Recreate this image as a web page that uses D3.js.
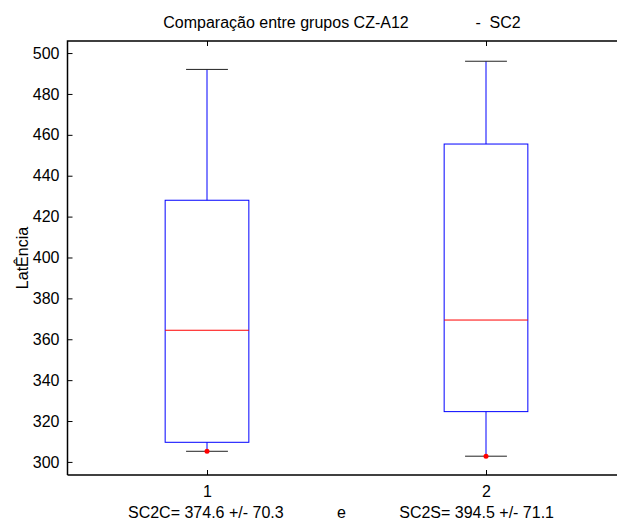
<!DOCTYPE html>
<html>
<head>
<meta charset="utf-8">
<script src="https://cdn.jsdelivr.net/npm/d3@7"></script>
<style>
  body { margin: 0; background: #fff; }
  text { font-family: "Liberation Sans", Arial, sans-serif; font-size: 16px; fill: #000; white-space: pre; }
</style>
</head>
<body>
<main></main>
<script>
const width = 617, height = 522;

// data
const groups = [1, 2];
const upperWhisker = [492, 496];
const q3 = [428, 455.5];
const median = [364.4, 369.4];
const q1 = [309.6, 324.6];
const lowerWhisker = [305.2, 302.8];
const minPoint = [305.2, 302.8];
const yTicks = [300, 320, 340, 360, 380, 400, 420, 440, 460, 480, 500];
const titleText = "Comparação entre grupos CZ-A12" + " ".repeat(15) + "-  SC2";
const xLabelText = "SC2C= 374.6 +/- 70.3" + " ".repeat(12) + "e" + " ".repeat(12) + "SC2S= 394.5 +/- 71.1";
const yLabelText = "LatÊncia";

const plotLeft = 67.5, plotRight = 625.5, plotTop = 41, plotBottom = 475;

const svg = d3.select("main").append("svg")
    .attr("width", width)
    .attr("height", height);

const x = d3.scaleLinear().domain([0.5, 2.5]).range([plotLeft, plotRight]);
const y = d3.scaleLinear().domain([293.6, 505.9]).range([plotBottom, plotTop]);

const boxHalf = 0.15, capHalf = 0.075;

// axes (ticks inside, like matlab)
svg.append("g")
    .attr("transform", "translate(" + plotLeft + ",0)")
    .call(d3.axisLeft(y).tickValues(yTicks).tickSize(-5).tickPadding(8))
    .call(g => g.select(".domain").remove());

svg.append("g")
    .attr("transform", "translate(0," + plotBottom + ")")
    .call(d3.axisBottom(x).tickValues(groups).tickSize(-5).tickPadding(11).tickFormat(d3.format("d")))
    .call(g => g.select(".domain").remove());

svg.append("g")
    .attr("transform", "translate(0," + plotTop + ")")
    .call(d3.axisTop(x).tickValues(groups).tickSize(-5).tickFormat(""))
    .call(g => g.select(".domain").remove());

svg.selectAll(".tick text").style("font-size", "16px").style("font-family", "'Liberation Sans', Arial, sans-serif");
svg.selectAll(".tick line").attr("stroke", "#000");

// frame lines
svg.append("path")
    .attr("d", "M" + plotLeft + "," + plotBottom + "V" + plotTop + "H" + plotRight)
    .attr("fill", "none").attr("stroke", "#000").attr("stroke-width", 1.5);
svg.append("line")
    .attr("x1", plotLeft).attr("x2", plotRight).attr("y1", plotBottom).attr("y2", plotBottom)
    .attr("stroke", "#000").attr("stroke-width", 1.5);

const idx = d3.range(groups.length);
const box = svg.append("g");

// whiskers
box.selectAll(".wup").data(idx).enter().append("line")
    .attr("x1", i => x(groups[i])).attr("x2", i => x(groups[i]))
    .attr("y1", i => y(q3[i])).attr("y2", i => y(upperWhisker[i]))
    .attr("stroke", "#0000ff");
box.selectAll(".wlo").data(idx).enter().append("line")
    .attr("x1", i => x(groups[i])).attr("x2", i => x(groups[i]))
    .attr("y1", i => y(q1[i])).attr("y2", i => y(lowerWhisker[i]))
    .attr("stroke", "#0000ff");

// caps
[upperWhisker, lowerWhisker].forEach(arr => {
  box.selectAll(null).data(idx).enter().append("line")
      .attr("x1", i => x(groups[i] - capHalf)).attr("x2", i => x(groups[i] + capHalf))
      .attr("y1", i => y(arr[i])).attr("y2", i => y(arr[i]))
      .attr("stroke", "#222");
});

// boxes
box.selectAll("rect").data(idx).enter().append("rect")
    .attr("x", i => x(groups[i] - boxHalf))
    .attr("width", i => x(groups[i] + boxHalf) - x(groups[i] - boxHalf))
    .attr("y", i => y(q3[i]))
    .attr("height", i => y(q1[i]) - y(q3[i]))
    .attr("fill", "none")
    .attr("stroke", "#0000ff");

// medians
box.selectAll(".med").data(idx).enter().append("line")
    .attr("x1", i => x(groups[i] - boxHalf)).attr("x2", i => x(groups[i] + boxHalf))
    .attr("y1", i => y(median[i])).attr("y2", i => y(median[i]))
    .attr("stroke", "#ff0000");

// red markers
box.selectAll("circle").data(idx).enter().append("circle")
    .attr("cx", i => x(groups[i]))
    .attr("cy", i => y(minPoint[i]))
    .attr("r", 2.5)
    .attr("fill", "#ff0000");

// texts
svg.append("text")
    .attr("x", 342).attr("y", 28)
    .attr("text-anchor", "middle")
    .text(titleText);

svg.append("text")
    .attr("x", 341).attr("y", 518)
    .attr("text-anchor", "middle")
    .text(xLabelText);

svg.append("text")
    .attr("transform", "translate(28," + (plotTop + plotBottom) / 2 + ") rotate(-90)")
    .attr("text-anchor", "middle")
    .text(yLabelText);
</script>
</body>
</html>
